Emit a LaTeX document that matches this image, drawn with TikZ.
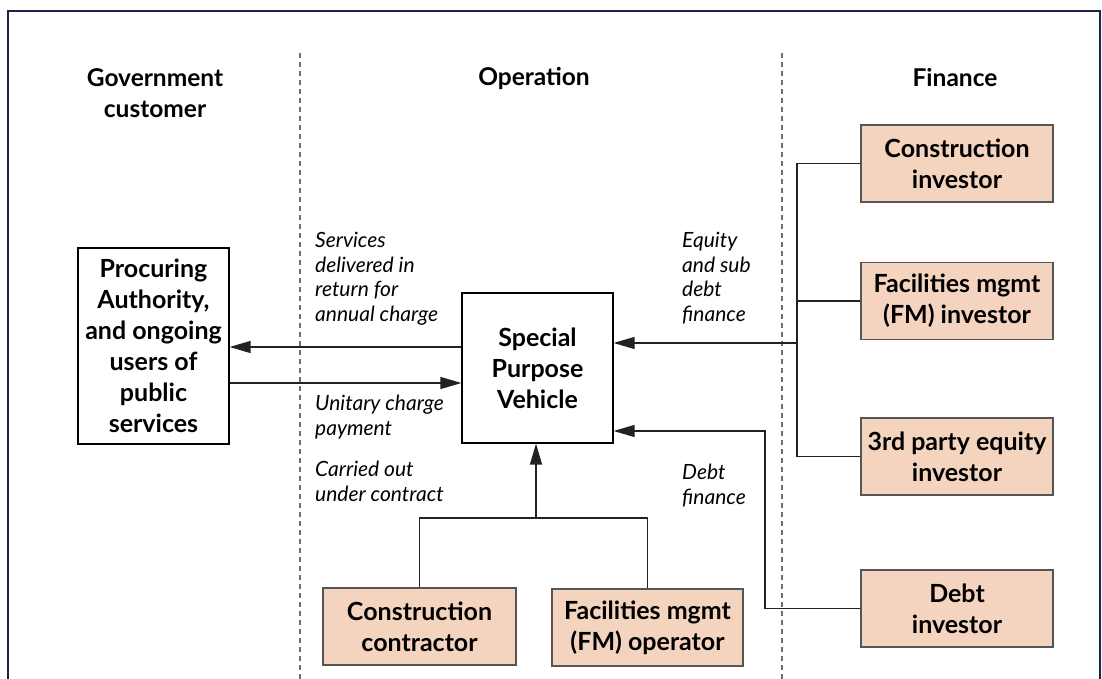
\documentclass[tikz,border=0pt]{standalone}
\usepackage{fontspec}
\setmainfont{Lato}
\usetikzlibrary{arrows.meta,calc}
\definecolor{peach}{HTML}{F5D4BF}
\definecolor{boxedge}{HTML}{555555}
\definecolor{navy}{HTML}{1C2548}
\definecolor{dashgray}{HTML}{707070}
\definecolor{linegray}{HTML}{222222}
\begin{document}
\begin{tikzpicture}[x=1pt,y=-1pt,
  boxtext/.style={font=\fontsize{25}{31}\selectfont\bfseries,align=center,inner sep=0pt},
  whitebox/.style={boxtext,draw=black,line width=1.2pt,fill=white},
  peachbox/.style={boxtext,draw=boxedge,line width=1.4pt,fill=peach},
  header/.style={font=\fontsize{24.5}{31}\selectfont\bfseries,align=center,inner sep=0pt},
  lbl/.style={font=\fontsize{21}{24.5}\selectfont\itshape,align=left,anchor=north west,inner sep=0pt},
  conn/.style={draw=linegray,line width=1.3pt},
  arr/.style={conn,-{Triangle[length=21pt,width=12pt]}},
  divider/.style={draw=dashgray,line width=1.2pt,dash pattern=on 5pt off 4pt}
]
\useasboundingbox (0,0) rectangle (1102,679);
% frame
\draw[navy,line width=2pt] (8,679) -- (8,11) -- (1100,11) -- (1100,679);
% dividers
\draw[divider] (300,53) -- (300,679);
\draw[divider] (782,53) -- (782,679);
% headers
\node[header] (hgov) at (155,93) {Government\\customer};
\node[header] (hop) at (534,78) {Operation};
\node[header] (hfin) at (955,78) {Finance};
% boxes
\node[whitebox,minimum width=151pt,minimum height=196pt] (auth) at (153.5,346) {Procuring\\Authority,\\and ongoing\\users of\\public\\services};
\node[whitebox,minimum width=151pt,minimum height=150pt] (spv) at (537.5,368) {Special\\Purpose\\Vehicle};
\node[peachbox,minimum width=192pt,minimum height=77pt] (ci) at (957,163.5) {Construction\\investor};
\node[peachbox,minimum width=192pt,minimum height=77pt] (fmi) at (957,301) {Facilities mgmt\\(FM) investor};
\node[peachbox,minimum width=192pt,minimum height=77pt] (tpi) at (957,456.5) {3rd party equity\\investor};
\node[peachbox,minimum width=192pt,minimum height=77pt] (di) at (957,608.5) {Debt\\investor};
\node[peachbox,minimum width=193pt,minimum height=77pt] (cc) at (419.5,626.5) {Construction\\contractor};
\node[peachbox,minimum width=191pt,minimum height=77pt] (fmo) at (647.5,627.5) {Facilities mgmt\\(FM) operator};
% labels
\node[lbl] (l1) at (315,232) {Services\\delivered in\\return for\\annual charge};
\node[lbl] (l2) at (315,395) {Unitary charge\\payment};
\node[lbl] (l3) at (315,461) {Carried out\\under contract};
\node[lbl] (l4) at (682,232) {Equity\\and sub\\debt\\finance};
\node[lbl] (l5) at (682,464) {Debt\\finance};
% coordinates
\coordinate (bus) at (797,343);
\coordinate (dv) at (765,431);
\coordinate (jn) at (536,518);
\coordinate (ya) at (0,347);
\coordinate (yb) at (0,383);
% connectors gov <-> spv
\draw[arr] (ya -| spv.west) -- (ya -| auth.east);
\draw[arr] (yb -| auth.east) -- (yb -| spv.west);
% finance bus
\draw[conn] (ci.west) -- (ci.west -| bus) -- (tpi.west -| bus) -- (tpi.west);
\draw[conn] (fmi.west) -- (fmi.west -| bus);
\draw[arr] (bus) -- (bus -| spv.east);
% debt
\draw[arr] (di.west) -| (dv) -- (dv -| spv.east);
% contractors
\draw[conn] (cc.north) |- (jn) -| (fmo.north);
\draw[arr] (jn) -- (jn |- spv.south);
\end{tikzpicture}
\end{document}
